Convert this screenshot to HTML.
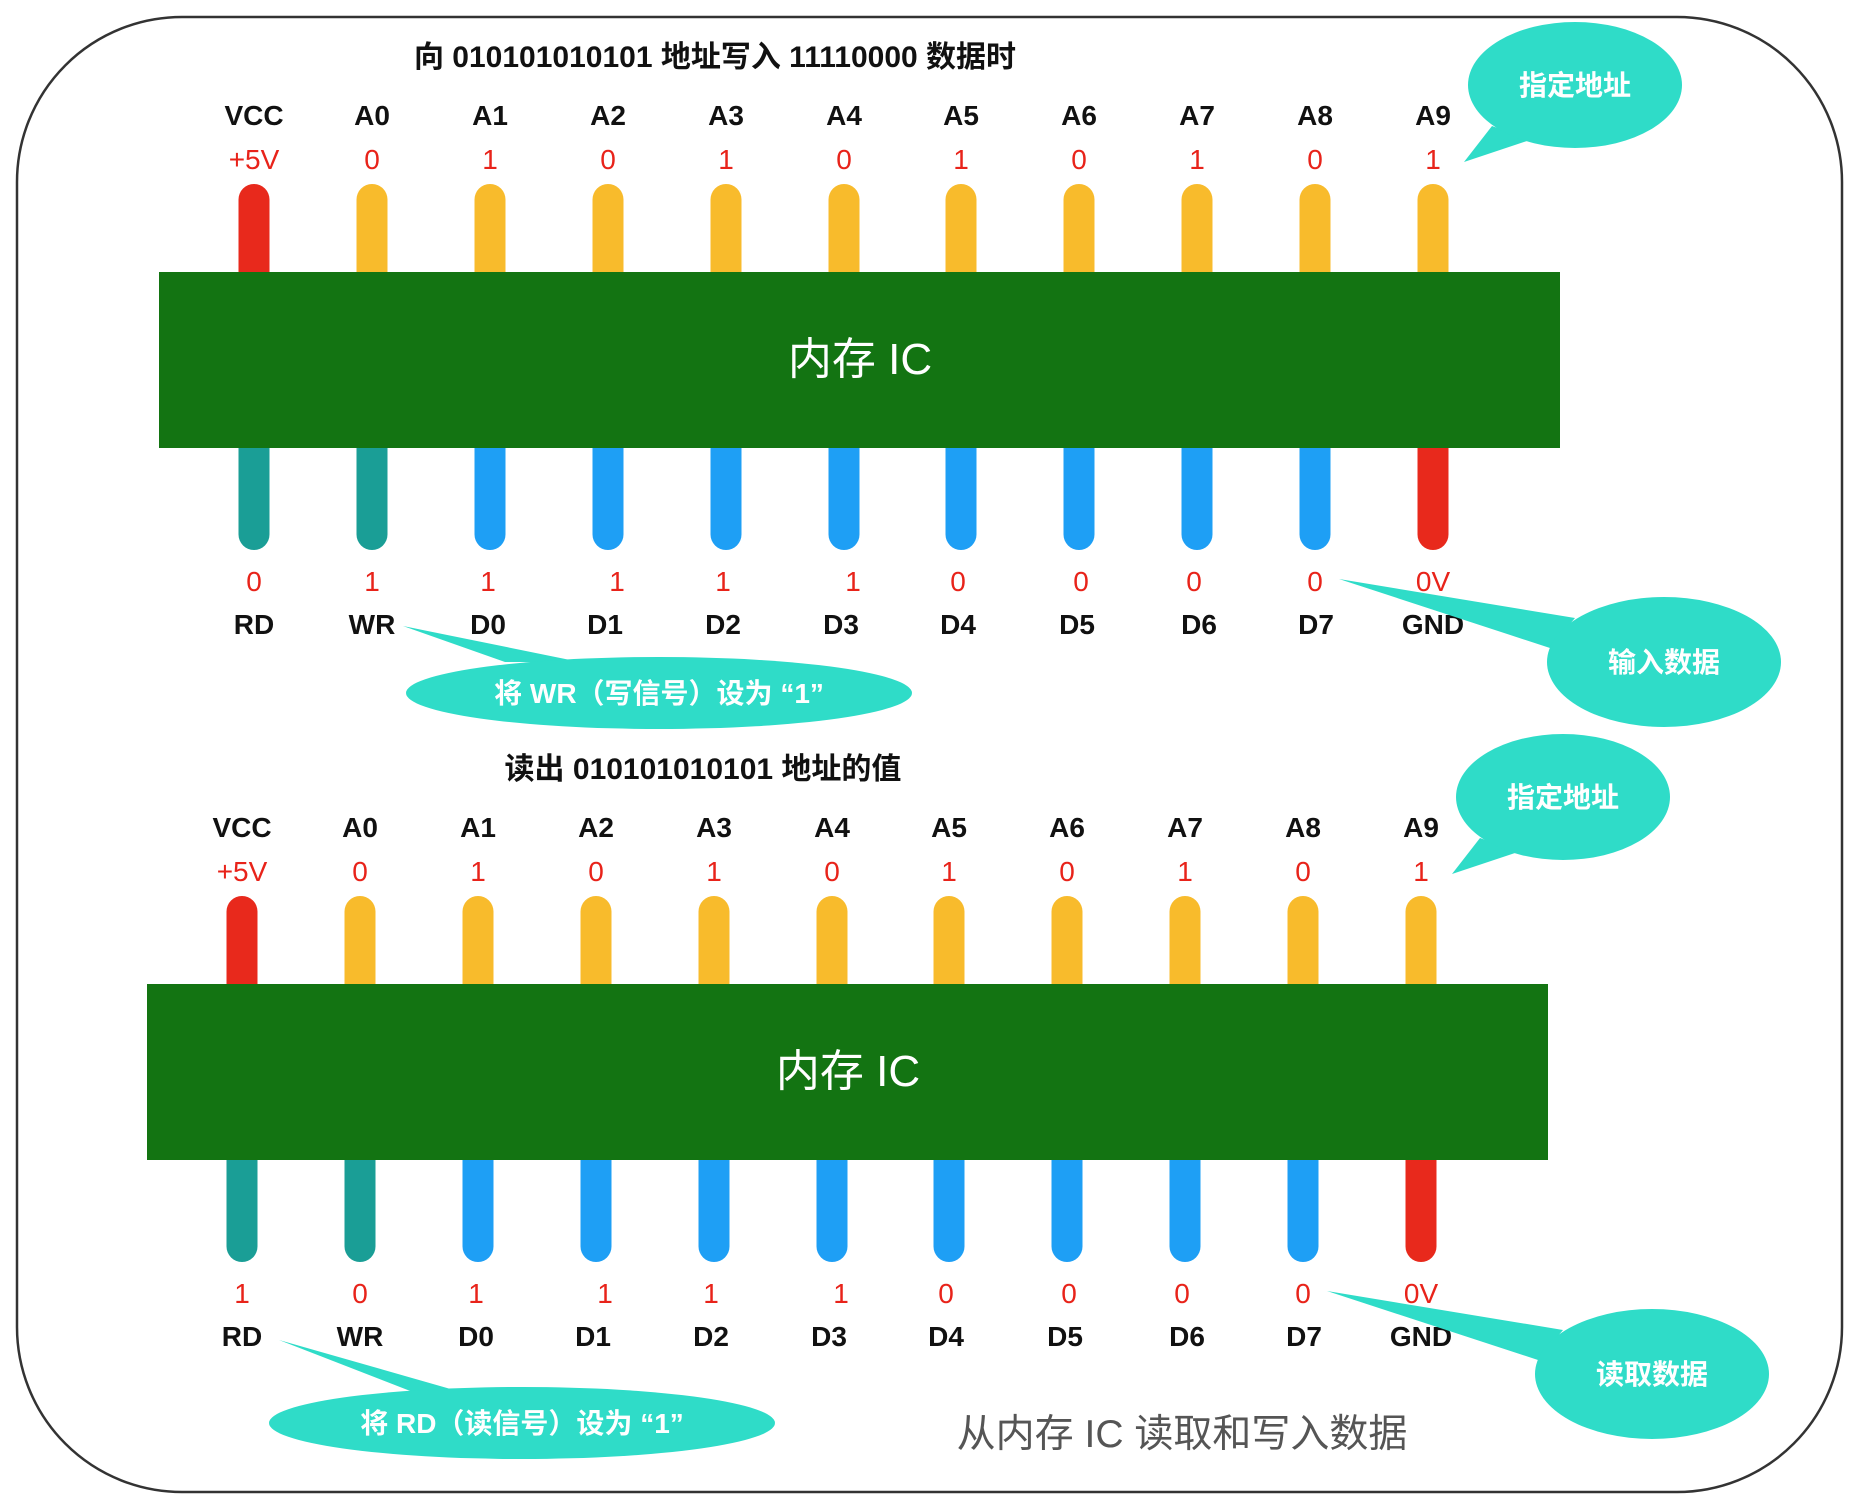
<!DOCTYPE html>
<html><head><meta charset="utf-8"><style>
html,body{margin:0;padding:0;background:#fff;}
svg{display:block;}
text{font-family:"Liberation Sans","Noto Sans CJK SC",sans-serif;}
.lbl{font-size:28px;font-weight:bold;fill:#111;text-anchor:middle;}
.val{font-size:28px;fill:#e8231a;text-anchor:middle;}
.ttl{font-size:30px;font-weight:bold;fill:#111;text-anchor:middle;}
.chip{font-size:44px;fill:#fff;text-anchor:middle;}
.co{font-size:28px;font-weight:bold;fill:#fff;text-anchor:middle;}
</style></head><body>
<svg width="1860" height="1509" viewBox="0 0 1860 1509" xmlns="http://www.w3.org/2000/svg">
<rect x="17" y="17" width="1825" height="1475" rx="165" fill="#fff" stroke="#333" stroke-width="2.5"/>

<!-- TOP PANEL -->
<g id="p1">
<text class="ttl" x="715" y="67">向 010101010101 地址写入 11110000 数据时</text>
<g class="lbl">
<text x="254" y="125">VCC</text><text x="372" y="125">A0</text><text x="490" y="125">A1</text><text x="608" y="125">A2</text><text x="726" y="125">A3</text><text x="844" y="125">A4</text><text x="961" y="125">A5</text><text x="1079" y="125">A6</text><text x="1197" y="125">A7</text><text x="1315" y="125">A8</text><text x="1433" y="125">A9</text>
</g>
<g class="val">
<text x="254" y="169">+5V</text><text x="372" y="169">0</text><text x="490" y="169">1</text><text x="608" y="169">0</text><text x="726" y="169">1</text><text x="844" y="169">0</text><text x="961" y="169">1</text><text x="1079" y="169">0</text><text x="1197" y="169">1</text><text x="1315" y="169">0</text><text x="1433" y="169">1</text>
</g>
<rect x="238.5" y="184" width="31" height="110" rx="15.5" fill="#e8291c"/>
<g fill="#f8bb2c">
<rect x="356.5" y="184" width="31" height="110" rx="15.5"/><rect x="474.5" y="184" width="31" height="110" rx="15.5"/><rect x="592.5" y="184" width="31" height="110" rx="15.5"/><rect x="710.5" y="184" width="31" height="110" rx="15.5"/><rect x="828.5" y="184" width="31" height="110" rx="15.5"/><rect x="945.5" y="184" width="31" height="110" rx="15.5"/><rect x="1063.5" y="184" width="31" height="110" rx="15.5"/><rect x="1181.5" y="184" width="31" height="110" rx="15.5"/><rect x="1299.5" y="184" width="31" height="110" rx="15.5"/><rect x="1417.5" y="184" width="31" height="110" rx="15.5"/>
</g>
<g fill="#1a9e96"><rect x="238.5" y="430" width="31" height="120" rx="15.5"/><rect x="356.5" y="430" width="31" height="120" rx="15.5"/></g>
<g fill="#1e9ff5">
<rect x="474.5" y="430" width="31" height="120" rx="15.5"/><rect x="592.5" y="430" width="31" height="120" rx="15.5"/><rect x="710.5" y="430" width="31" height="120" rx="15.5"/><rect x="828.5" y="430" width="31" height="120" rx="15.5"/><rect x="945.5" y="430" width="31" height="120" rx="15.5"/><rect x="1063.5" y="430" width="31" height="120" rx="15.5"/><rect x="1181.5" y="430" width="31" height="120" rx="15.5"/><rect x="1299.5" y="430" width="31" height="120" rx="15.5"/>
</g>
<rect x="1417.5" y="430" width="31" height="120" rx="15.5" fill="#e8291c"/>
<rect x="159" y="272" width="1401" height="176" fill="#137412"/>
<text class="chip" x="860" y="374">内存 IC</text>
<g class="val">
<text x="254" y="591">0</text><text x="372" y="591">1</text><text x="488" y="591">1</text><text x="617" y="591">1</text><text x="723" y="591">1</text><text x="853" y="591">1</text><text x="958" y="591">0</text><text x="1081" y="591">0</text><text x="1194" y="591">0</text><text x="1315" y="591">0</text><text x="1433" y="591">0V</text>
</g>
<g class="lbl">
<text x="254" y="634">RD</text><text x="372" y="634">WR</text><text x="488" y="634">D0</text><text x="605" y="634">D1</text><text x="723" y="634">D2</text><text x="841" y="634">D3</text><text x="958" y="634">D4</text><text x="1077" y="634">D5</text><text x="1199" y="634">D6</text><text x="1316" y="634">D7</text><text x="1433" y="634">GND</text>
</g>
</g>
<g fill="#2fdcc8">
<polygon points="1492,126 1464,162 1530,140"/>
<ellipse cx="1575" cy="85" rx="107" ry="63"/>
<polygon points="1339,579 1575,618 1550,648"/>
<ellipse cx="1664" cy="662" rx="117" ry="65"/>
<polygon points="403,626 505,662 580,662"/>
<ellipse cx="659" cy="693" rx="253" ry="36"/>
</g>
<text class="co" x="1575" y="95">指定地址</text>
<text class="co" x="1664" y="672">输入数据</text>
<text class="co" x="659" y="703">将 WR（写信号）设为 “1”</text>

<!-- BOTTOM PANEL -->
<g transform="translate(-12,712)">
<text class="ttl" x="715" y="67">读出 010101010101 地址的值</text>
<g class="lbl">
<text x="254" y="125">VCC</text><text x="372" y="125">A0</text><text x="490" y="125">A1</text><text x="608" y="125">A2</text><text x="726" y="125">A3</text><text x="844" y="125">A4</text><text x="961" y="125">A5</text><text x="1079" y="125">A6</text><text x="1197" y="125">A7</text><text x="1315" y="125">A8</text><text x="1433" y="125">A9</text>
</g>
<g class="val">
<text x="254" y="169">+5V</text><text x="372" y="169">0</text><text x="490" y="169">1</text><text x="608" y="169">0</text><text x="726" y="169">1</text><text x="844" y="169">0</text><text x="961" y="169">1</text><text x="1079" y="169">0</text><text x="1197" y="169">1</text><text x="1315" y="169">0</text><text x="1433" y="169">1</text>
</g>
<rect x="238.5" y="184" width="31" height="110" rx="15.5" fill="#e8291c"/>
<g fill="#f8bb2c">
<rect x="356.5" y="184" width="31" height="110" rx="15.5"/><rect x="474.5" y="184" width="31" height="110" rx="15.5"/><rect x="592.5" y="184" width="31" height="110" rx="15.5"/><rect x="710.5" y="184" width="31" height="110" rx="15.5"/><rect x="828.5" y="184" width="31" height="110" rx="15.5"/><rect x="945.5" y="184" width="31" height="110" rx="15.5"/><rect x="1063.5" y="184" width="31" height="110" rx="15.5"/><rect x="1181.5" y="184" width="31" height="110" rx="15.5"/><rect x="1299.5" y="184" width="31" height="110" rx="15.5"/><rect x="1417.5" y="184" width="31" height="110" rx="15.5"/>
</g>
<g fill="#1a9e96"><rect x="238.5" y="430" width="31" height="120" rx="15.5"/><rect x="356.5" y="430" width="31" height="120" rx="15.5"/></g>
<g fill="#1e9ff5">
<rect x="474.5" y="430" width="31" height="120" rx="15.5"/><rect x="592.5" y="430" width="31" height="120" rx="15.5"/><rect x="710.5" y="430" width="31" height="120" rx="15.5"/><rect x="828.5" y="430" width="31" height="120" rx="15.5"/><rect x="945.5" y="430" width="31" height="120" rx="15.5"/><rect x="1063.5" y="430" width="31" height="120" rx="15.5"/><rect x="1181.5" y="430" width="31" height="120" rx="15.5"/><rect x="1299.5" y="430" width="31" height="120" rx="15.5"/>
</g>
<rect x="1417.5" y="430" width="31" height="120" rx="15.5" fill="#e8291c"/>
<rect x="159" y="272" width="1401" height="176" fill="#137412"/>
<text class="chip" x="860" y="374">内存 IC</text>
<g class="val">
<text x="254" y="591">1</text><text x="372" y="591">0</text><text x="488" y="591">1</text><text x="617" y="591">1</text><text x="723" y="591">1</text><text x="853" y="591">1</text><text x="958" y="591">0</text><text x="1081" y="591">0</text><text x="1194" y="591">0</text><text x="1315" y="591">0</text><text x="1433" y="591">0V</text>
</g>
<g class="lbl">
<text x="254" y="634">RD</text><text x="372" y="634">WR</text><text x="488" y="634">D0</text><text x="605" y="634">D1</text><text x="723" y="634">D2</text><text x="841" y="634">D3</text><text x="958" y="634">D4</text><text x="1077" y="634">D5</text><text x="1199" y="634">D6</text><text x="1316" y="634">D7</text><text x="1433" y="634">GND</text>
</g>
</g>
<g fill="#2fdcc8">
<polygon points="1480,838 1452,874 1518,852"/>
<ellipse cx="1563" cy="797" rx="107" ry="63"/>
<polygon points="1327,1291 1563,1330 1538,1360"/>
<ellipse cx="1652" cy="1374" rx="117" ry="65"/>
<polygon points="279,1340 418,1394 468,1394"/>
<ellipse cx="522" cy="1423" rx="253" ry="36"/>
</g>
<text class="co" x="1563" y="807">指定地址</text>
<text class="co" x="1652" y="1384">读取数据</text>
<text class="co" x="522" y="1433">将 RD（读信号）设为 “1”</text>
<text x="1182" y="1447" style="font-size:39px;fill:#555;text-anchor:middle;">从内存 IC 读取和写入数据</text>
</svg>
</body></html>
